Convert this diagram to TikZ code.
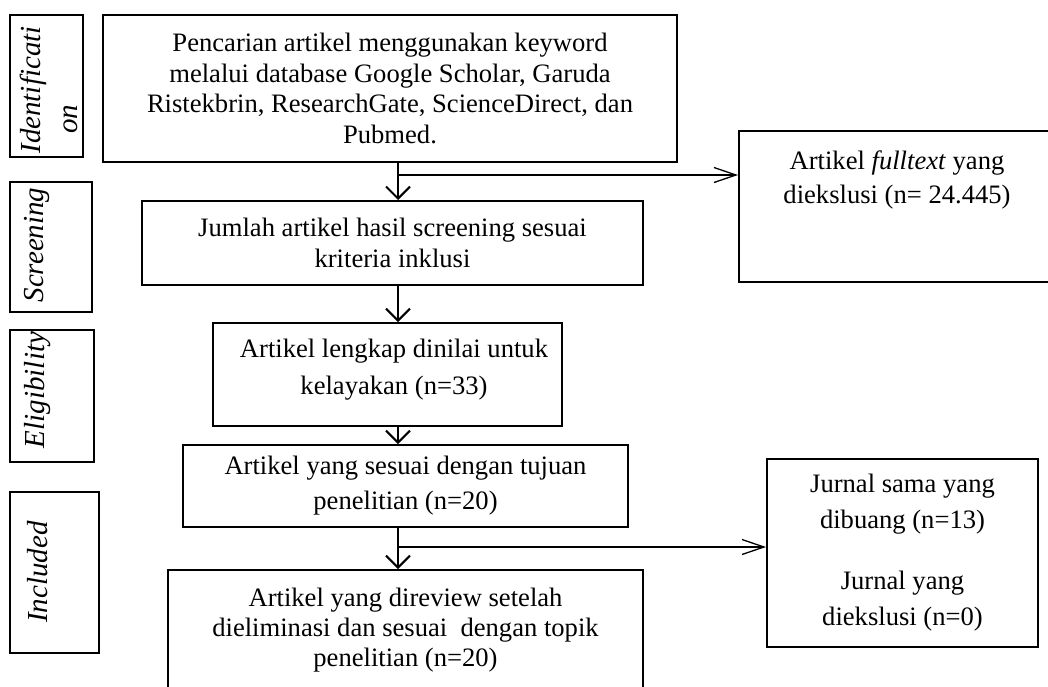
\documentclass[tikz,border=0pt]{standalone}
\usepackage{fontspec}
\setmainfont{Liberation Serif}
\usetikzlibrary{arrows.meta}

\tikzset{
  txt/.style={inner sep=0pt, align=center, font=\fontsize{13.3}{#1}\selectfont},
  txt/.default=15.2pt,
  box/.style={txt=#1, draw, line width=1pt},
  box/.default=15.2pt,
  frame/.style={draw, line width=1pt, inner sep=0pt},
  tag/.style={rotate=90, inner sep=0pt, font=\fontsize{14.5}{18.5}\selectfont\itshape},
  arr/.style={line width=1pt, -{Straight Barb[length=6pt,width=12pt]}},
  side/.style={line width=0.65pt, -{Straight Barb[length=11pt,width=7.5pt]}},
}

\begin{document}
\begin{tikzpicture}[x=0.5pt,y=-0.5pt]
\useasboundingbox (0,0) rectangle (1048,686);
\clip (0,0) rectangle (1048,686);

% tahap (kiri)
\node[frame, minimum width=36.5pt, minimum height=71pt] (fid) at (46.5,86) {};
\node[frame, minimum width=41pt, minimum height=65pt] (fscr) at (51,247) {};
\node[frame, minimum width=42pt, minimum height=66pt] (felig) at (52,396) {};
\node[frame, minimum width=44.5pt, minimum height=80.5pt] (fincl) at (54.5,572.5) {};
\node[tag, align=left] (tid) at (49,90) {Identificati\\\hspace*{10pt}on};
\node[tag] (tscr) at (37,245) {Screening};
\node[tag] (telig) at (38,390) {Eligibility};
\node[tag] (tincl) at (38,572) {Included};

% alur utama
\node[box, minimum width=287pt, minimum height=73.5pt] (b1) at (390,88.5)
  {Pencarian artikel menggunakan keyword\\melalui database Google Scholar, Garuda\\Ristekbrin, ResearchGate, ScienceDirect, dan\\Pubmed.};
\node[box=15.5pt, minimum width=250.5pt, minimum height=42pt] (b2) at (392.5,243)
  {Jumlah artikel hasil screening sesuai\\kriteria inklusi};
\node[frame, minimum width=174.5pt, minimum height=51.5pt] (b3) at (387.5,374.5) {};
\node[txt=18.5pt] (b3t) at (394,370)
  {Artikel lengkap dinilai untuk\\kelayakan (n=33)};
\node[box=17.5pt, minimum width=222.5pt, minimum height=41pt] (b4) at (405.5,486)
  {Artikel yang sesuai dengan tujuan\\penelitian (n=20)};
\node[box=15pt, minimum width=237.5pt, minimum height=60pt] (b5) at (405.5,630)
  {Artikel yang direview setelah\\dieliminasi dan sesuai\ \ dengan topik\\penelitian (n=20)};

% kotak samping
\node[frame, minimum width=160.5pt, minimum height=75.5pt] (r1) at (899.5,206.5) {};
\node[txt=17pt, anchor=north] (r1t) at ([yshift=-10pt]r1.north -| 897,0)
  {Artikel \textit{fulltext} yang\\diekslusi (n= 24.445)};
\node[box=18pt, minimum width=135.5pt, minimum height=94pt] (r2) at (902.5,553)
  {Jurnal sama yang\\dibuang (n=13)\\[12.5pt]Jurnal yang\\diekslusi (n=0)};

% panah
\coordinate (t1) at (398,175);
\coordinate (t2) at (398,547);
\draw[arr] (b1.south -| t1) -- (b2.north -| t1);
\draw[side] (t1) -- (t1 -| r1.west);
\draw[arr] (b2.south -| t1) -- (b3.north -| t1);
\draw[arr] (b3.south -| t1) -- (b4.north -| t1);
\draw[arr] (b4.south -| t2) -- (b5.north -| t2);
\draw[side] (t2) -- (t2 -| r2.west);
\end{tikzpicture}
\end{document}
